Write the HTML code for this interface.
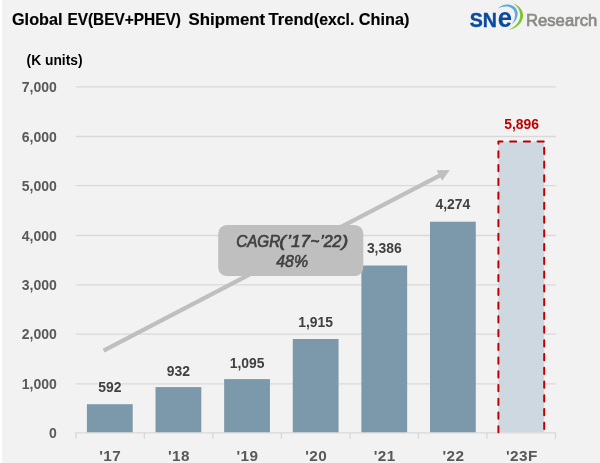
<!DOCTYPE html>
<html lang="en">
<head>
<meta charset="utf-8">
<title>Global EV(BEV+PHEV) Shipment Trend(excl. China)</title>
<style>
html,body{margin:0;padding:0;background:#f2f2f2;}
body{width:600px;height:463px;overflow:hidden;position:relative;}
svg{display:block;position:absolute;left:0;top:0;}
text{font-family:"Liberation Sans",sans-serif;}
.ttl{font-weight:bold;font-size:15.7px;fill:#000;stroke:#000;stroke-width:0.15;}
.ax{font-weight:bold;font-size:14px;fill:#595959;}
.cat{font-weight:bold;font-size:15.3px;fill:#595959;letter-spacing:0.45px;}
.dl{font-weight:bold;font-size:13.9px;fill:#404040;}
.cg{font-style:italic;font-size:15.6px;fill:#404040;stroke:#404040;stroke-width:0.7;stroke-linejoin:round;}
.cg2{font-style:italic;font-size:16.2px;fill:#404040;stroke:#404040;stroke-width:0.55;stroke-linejoin:round;}
</style>
</head>
<body>
<svg width="600" height="463" viewBox="0 0 600 463">
<rect x="0" y="0" width="600" height="463" fill="#f2f2f2"/>
<rect x="0" y="0" width="1.9" height="463" fill="#ffffff"/>

<text class="ttl" y="25.3"><tspan x="12.0" textLength="50.5" lengthAdjust="spacingAndGlyphs">Global</tspan> <tspan x="67.4" textLength="113.5" lengthAdjust="spacingAndGlyphs">EV(BEV+PHEV)</tspan> <tspan x="188.6" textLength="76.6" lengthAdjust="spacingAndGlyphs">Shipment</tspan> <tspan x="268.6" textLength="45.0" lengthAdjust="spacingAndGlyphs">Trend</tspan><tspan x="313.9" textLength="40.4" lengthAdjust="spacingAndGlyphs">(excl.</tspan> <tspan x="358.8" textLength="50.6" lengthAdjust="spacingAndGlyphs">China)</tspan></text>
<text x="26.6" y="64.8" font-size="13.8" font-weight="bold" fill="#000">(K units)</text>
<line x1="75.80" y1="383.95" x2="555.80" y2="383.95" stroke="#d9d9d9" stroke-width="1.3"/>
<line x1="75.80" y1="334.15" x2="555.80" y2="334.15" stroke="#d9d9d9" stroke-width="1.3"/>
<line x1="75.80" y1="284.95" x2="555.80" y2="284.95" stroke="#d9d9d9" stroke-width="1.3"/>
<line x1="75.80" y1="235.50" x2="555.80" y2="235.50" stroke="#d9d9d9" stroke-width="1.3"/>
<line x1="75.80" y1="185.60" x2="555.80" y2="185.60" stroke="#d9d9d9" stroke-width="1.3"/>
<line x1="75.80" y1="136.50" x2="555.80" y2="136.50" stroke="#d9d9d9" stroke-width="1.3"/>
<line x1="75.80" y1="86.95" x2="555.80" y2="86.95" stroke="#d9d9d9" stroke-width="1.3"/>
<text class="ax" x="56.8" y="438.00" text-anchor="end">0</text>
<text class="ax" x="56.8" y="389.00" text-anchor="end">1,000</text>
<text class="ax" x="56.8" y="339.20" text-anchor="end">2,000</text>
<text class="ax" x="56.8" y="290.00" text-anchor="end">3,000</text>
<text class="ax" x="56.8" y="240.55" text-anchor="end">4,000</text>
<text class="ax" x="56.8" y="190.65" text-anchor="end">5,000</text>
<text class="ax" x="56.8" y="141.55" text-anchor="end">6,000</text>
<text class="ax" x="56.8" y="92.00" text-anchor="end">7,000</text>
<line x1="75.2" y1="432.95" x2="556.2" y2="432.95" stroke="#d9d9d9" stroke-width="1.3"/>
<line x1="75.90" y1="432.95" x2="75.90" y2="438.8" stroke="#d9d9d9" stroke-width="1.4"/>
<line x1="144.41" y1="432.95" x2="144.41" y2="438.8" stroke="#d9d9d9" stroke-width="1.4"/>
<line x1="212.93" y1="432.95" x2="212.93" y2="438.8" stroke="#d9d9d9" stroke-width="1.4"/>
<line x1="281.44" y1="432.95" x2="281.44" y2="438.8" stroke="#d9d9d9" stroke-width="1.4"/>
<line x1="349.96" y1="432.95" x2="349.96" y2="438.8" stroke="#d9d9d9" stroke-width="1.4"/>
<line x1="418.47" y1="432.95" x2="418.47" y2="438.8" stroke="#d9d9d9" stroke-width="1.4"/>
<line x1="486.99" y1="432.95" x2="486.99" y2="438.8" stroke="#d9d9d9" stroke-width="1.4"/>
<line x1="555.50" y1="432.95" x2="555.50" y2="438.8" stroke="#d9d9d9" stroke-width="1.4"/>
<rect x="86.90" y="404.2" width="45.80" height="28.05" fill="#7c99ac"/>
<rect x="155.52" y="387.1" width="45.80" height="45.15" fill="#7c99ac"/>
<rect x="224.14" y="379.1" width="45.80" height="53.15" fill="#7c99ac"/>
<rect x="292.76" y="339.0" width="45.80" height="93.25" fill="#7c99ac"/>
<rect x="361.38" y="265.5" width="45.80" height="166.75" fill="#7c99ac"/>
<rect x="430.00" y="221.7" width="45.80" height="210.55" fill="#7c99ac"/>
<rect x="498.40" y="141.6" width="45.80" height="290.65" fill="#cdd8e0"/>
<path d="M498.40,432.25 L498.40,141.6 L544.20,141.6" fill="none" stroke="#c00000" stroke-width="2" stroke-linecap="round" stroke-linejoin="round" stroke-dasharray="6.2 7.55" stroke-dashoffset="0.2"/>
<path d="M544.20,141.6 L544.20,432.25" fill="none" stroke="#c00000" stroke-width="2" stroke-linecap="round" stroke-dasharray="6.2 7.55" stroke-dashoffset="7.55"/>
<g id="arrow"><line x1="103.6" y1="350.6" x2="440" y2="175.3" stroke="#bfbfbf" stroke-width="4.3" stroke-linecap="butt"/><polygon points="449.8,170.0 436.6,170.2 442.2,180.8" fill="#bfbfbf"/></g>
<rect x="218.2" y="224.9" width="145.1" height="51.1" rx="8.6" ry="8.6" fill="#bfbfbf"/>
<text class="cg" y="247.4"><tspan x="236.2" textLength="44.0" lengthAdjust="spacingAndGlyphs">CAGR</tspan><tspan x="279.2" font-size="16.4" textLength="6.6" lengthAdjust="spacingAndGlyphs">(</tspan><tspan x="287.2" textLength="23.0" lengthAdjust="spacingAndGlyphs">’17</tspan><tspan x="310.5" textLength="8.8" lengthAdjust="spacingAndGlyphs">~</tspan><tspan x="320.2" textLength="21.2" lengthAdjust="spacingAndGlyphs">’22</tspan><tspan x="341.8" font-size="16.4" textLength="6.6" lengthAdjust="spacingAndGlyphs">)</tspan></text>
<text class="cg2" x="276.3" y="266.9" textLength="31.7" lengthAdjust="spacingAndGlyphs">48%</text>
<rect x="97.96" y="381.10" width="23.68" height="13.5" fill="#f2f2f2"/>
<text class="dl" x="109.80" y="392.10" text-anchor="middle">592</text>
<text class="cat" x="110.30" y="460.5" text-anchor="middle">'17</text>
<text class="dl" x="178.42" y="375.60" text-anchor="middle">932</text>
<text class="cat" x="178.92" y="460.5" text-anchor="middle">'18</text>
<text class="dl" x="247.04" y="367.60" text-anchor="middle">1,095</text>
<text class="cat" x="247.54" y="460.5" text-anchor="middle">'19</text>
<text class="dl" x="315.66" y="326.70" text-anchor="middle">1,915</text>
<text class="cat" x="316.16" y="460.5" text-anchor="middle">'20</text>
<text class="dl" x="384.28" y="253.40" text-anchor="middle">3,386</text>
<text class="cat" x="384.78" y="460.5" text-anchor="middle">'21</text>
<text class="dl" x="452.90" y="209.40" text-anchor="middle">4,274</text>
<text class="cat" x="453.40" y="460.5" text-anchor="middle">'22</text>
<text class="dl" x="521.60" y="129.30" text-anchor="middle" style="fill:#c00000">5,896</text>
<text class="cat" x="521.80" y="460.5" text-anchor="middle">'23F</text>
<g id="logo">
<path d="M497.9,8.6 C500.5,5.2 504.5,4.2 508,4.4 C513.8,4.8 517.7,8.6 517.7,13.6 C517.7,17.8 515.4,21.6 511.8,24.2 C514.2,21 515.2,17.4 515,13.8 C514.6,9.6 511.4,6.9 507.4,6.6 C503.8,6.3 500.4,7.2 497.9,8.6 Z" fill="#62a8e0"/>
<path d="M513,3.2 C519.4,5.6 523.2,10.4 523.1,15.6 C523,22.8 516.4,28.8 508.1,30.1 C515,27.4 520,22.2 520.2,15.6 C520.3,10.6 517.6,6.4 513,3.2 Z" fill="#80c22f"/>
<text y="27" font-weight="bold" fill="#0b4aa0" stroke="#0b4aa0"><tspan x="469.8" font-size="20.6" stroke-width="0.4" textLength="27.2" lengthAdjust="spacingAndGlyphs">SN</tspan><tspan x="497.7" font-size="27.4" stroke-width="0.15" textLength="14.2" lengthAdjust="spacingAndGlyphs">e</tspan></text>
<text x="526" y="25.6" font-size="17.1" fill="#8b8b85" stroke="#8b8b85" stroke-width="0.7" textLength="71.3" lengthAdjust="spacingAndGlyphs">Research</text>
</g>
</svg>
</body>
</html>
